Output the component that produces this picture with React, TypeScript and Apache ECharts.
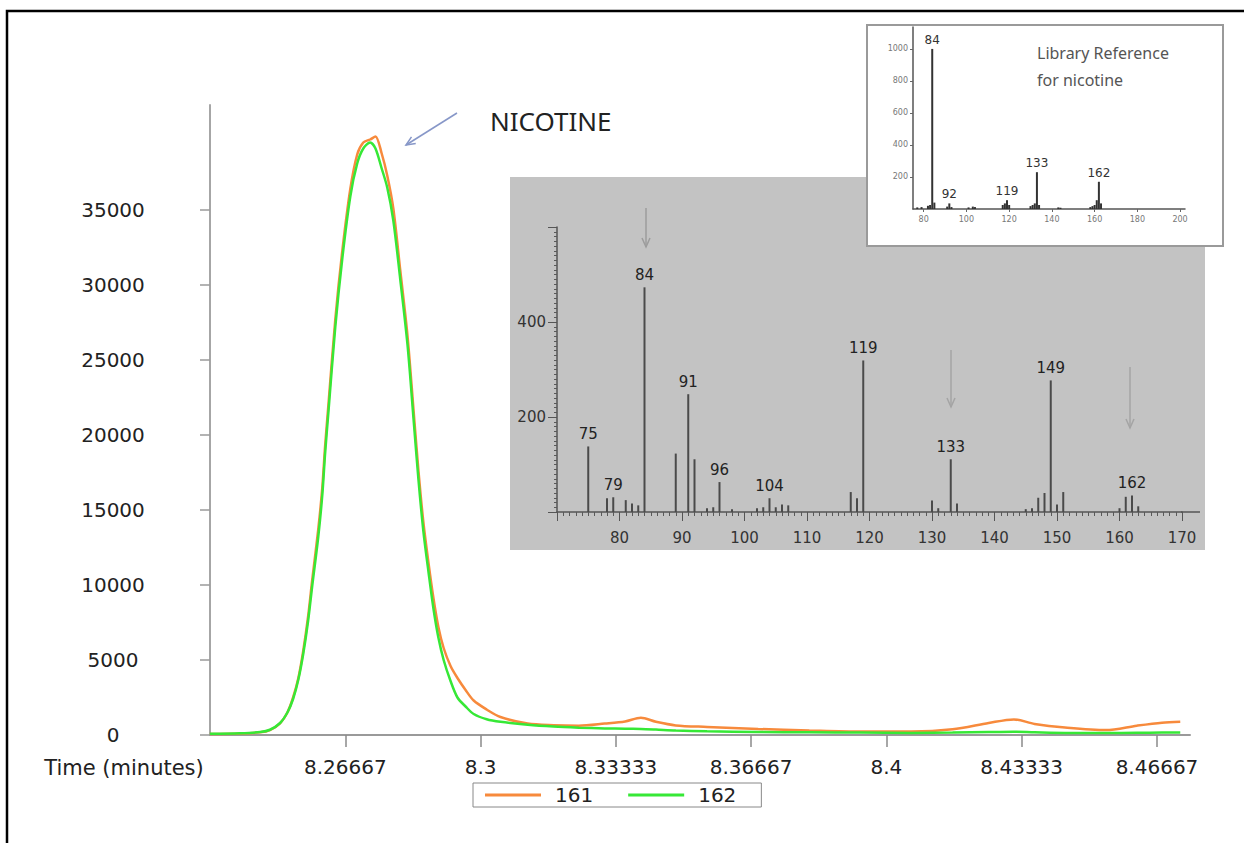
import React, { useEffect, useRef } from "react";
import * as echarts from "echarts";

// ---- Main chromatogram (extracted ion traces) ----
const timeMin = [
  8.2333, 8.2407, 8.2457, 8.2481, 8.2506, 8.2524, 8.2538, 8.2551, 8.2563, 8.2575,
  8.2585, 8.26, 8.261, 8.2617, 8.2625, 8.2642, 8.2659, 8.2679, 8.2696, 8.2711, 8.2728,
  8.2741, 8.2756, 8.277, 8.2785, 8.2802, 8.282, 8.2835, 8.2847, 8.2859, 8.2872, 8.2884,
  8.2896, 8.2909, 8.2926, 8.2943, 8.2963, 8.2983, 8.3015, 8.3049, 8.3116, 8.318,
  8.3242, 8.3306, 8.3356, 8.3395, 8.3432, 8.3481, 8.3558, 8.3684, 8.381, 8.3936,
  8.4062, 8.4163, 8.4252, 8.4314, 8.4365, 8.444, 8.4541, 8.4617, 8.4679, 8.4724,
];
const ion161 = [
  60, 100, 180, 330, 780, 1500, 2500, 3800, 5600, 7900,
  10300, 13700, 16500, 19300, 22000, 27700, 32200, 36400, 38700, 39500, 39700,
  39900, 38800, 37300, 35100, 31000, 26600, 21600, 17600, 14200, 11400, 9100,
  7200, 5800, 4600, 3800, 3000, 2300, 1700, 1200, 760, 650,
  620, 760, 900, 1150, 880, 640, 540, 400, 300, 230,
  230, 380, 800, 1040, 740, 500, 330, 620, 820, 880,
];
const ion162 = [
  80, 120, 200, 350, 800, 1500, 2400, 3700, 5400, 7600,
  9900, 13200, 16000, 18800, 21500, 27200, 31700, 35900, 38100, 39100, 39500,
  39100, 37800, 36500, 34300, 30400, 26000, 21000, 17000, 13600, 10800, 8400,
  6500, 5000, 3600, 2500, 1900, 1400, 1050, 880, 680, 560,
  490, 440, 420, 400, 360, 300, 250, 200, 180, 160,
  140, 160, 200, 220, 180, 140, 130, 150, 160, 160,
];
const mainXTicks = [8.266667, 8.3, 8.333333, 8.366667, 8.4, 8.433333, 8.466667];
const mainXTickLabels = ["8.26667", "8.3", "8.33333", "8.36667", "8.4", "8.43333", "8.46667"];
const mainYTicks = [0, 5000, 10000, 15000, 20000, 25000, 30000, 35000];
const seriesNames = ["161", "162"];

// ---- Sample mass spectrum (gray inset) ----
const mzSample = [
  75, 78, 79, 81, 82, 83, 84, 89, 91, 92, 94, 95, 96, 98, 102, 103, 104, 105, 106, 107,
  117, 118, 119, 130, 131, 133, 134, 145, 146, 147, 148, 149, 150, 151, 160, 161, 162, 163,
];
const abSample = [
  138, 29, 31, 25, 18, 14, 473, 123, 248, 111, 8, 10, 63, 6, 8, 10, 29, 10, 16, 14,
  42, 29, 319, 24, 8, 111, 18, 6, 8, 30, 40, 277, 16, 42, 8, 32, 35, 12,
];
const labeledSample = [75, 79, 84, 91, 96, 104, 119, 133, 149, 162];
const sampleYLabels = [200, 400];

// ---- Library reference spectrum (white inset) ----
const mzLibrary = [
  77, 79, 82, 83, 84, 85, 91, 92, 93, 101, 103, 104, 117, 118, 119, 120,
  130, 131, 132, 133, 134, 143, 144, 158, 159, 160, 161, 162, 163,
];
const abLibrary = [
  10, 12, 20, 25, 1000, 40, 15, 35, 12, 10, 15, 12, 25, 35, 55, 25,
  18, 25, 35, 230, 25, 10, 8, 12, 18, 25, 55, 170, 35,
];
const labeledLibrary = [84, 92, 119, 133, 162];
const libXTicks = [80, 100, 120, 140, 160, 180, 200];
const libYTicks = [200, 400, 600, 800, 1000];

const F = "DejaVu Sans";
const ORANGE = "#F78A3C";
const GREEN = "#36E836";
const plain = (v: number) => String(v);

function arrowHead(tipX: number, tipY: number, fromX: number, fromY: number, len: number, half: number) {
  const dx = tipX - fromX;
  const dy = tipY - fromY;
  const d = Math.sqrt(dx * dx + dy * dy);
  const ux = dx / d;
  const uy = dy / d;
  const bx = tipX - ux * len;
  const by = tipY - uy * len;
  return [
    [bx - uy * half, by + ux * half],
    [tipX, tipY],
    [bx + uy * half, by - ux * half],
  ];
}

function buildOption() {
  const arrows = [
    { x1: 457, y1: 113, x2: 406, y2: 145, color: "#8797C8" },
    { x1: 646, y1: 208, x2: 646, y2: 247, color: "#9C9C9C" },
    { x1: 951, y1: 350, x2: 951, y2: 407, color: "#A4A4A4" },
    { x1: 1130, y1: 367, x2: 1130, y2: 428, color: "#A4A4A4" },
  ];
  const arrowEls: any[] = [];
  arrows.forEach((a) => {
    arrowEls.push({
      type: "line",
      z: 20,
      shape: { x1: a.x1, y1: a.y1, x2: a.x2, y2: a.y2 },
      style: { stroke: a.color, lineWidth: 1.5 },
    });
    arrowEls.push({
      type: "polyline",
      z: 20,
      shape: { points: arrowHead(a.x2, a.y2, a.x1, a.y1, 9, 4) },
      style: { stroke: a.color, lineWidth: 1.5, fill: null },
    });
  });

  return {
    animation: false,
    backgroundColor: "#ffffff",
    grid: [
      { left: 210, right: 54, top: 105, bottom: 108 },
      { left: 557, right: 62, top: 227, bottom: 331 },
      { left: 913, right: 59, top: 27, bottom: 634 },
    ],
    legend: {
      data: seriesNames,
      left: 473,
      top: 783,
      icon: "rect",
      itemWidth: 56,
      itemHeight: 3,
      itemGap: 35,
      selectedMode: false,
      borderColor: "#888",
      borderWidth: 1,
      borderRadius: 0,
      padding: [2, 25, 2, 12],
      textStyle: { fontFamily: F, fontSize: 20, color: "#222", padding: [0, 0, 0, 9] },
    },
    xAxis: [
      {
        type: "value",
        gridIndex: 0,
        min: 8.23333,
        max: 8.4748,
        splitLine: { show: false },
        axisLine: { show: true, onZero: false, lineStyle: { color: "#9a9a9a", width: 2 } },
        axisTick: { show: true, customValues: mainXTicks, length: 12, lineStyle: { color: "#8a8a8a", width: 1.5 } },
        axisLabel: {
          customValues: mainXTicks,
          formatter: (v: number) => {
            const i = mainXTicks.findIndex((t) => Math.abs(t - v) < 1e-4);
            return i >= 0 ? mainXTickLabels[i] : "";
          },
          fontFamily: F,
          fontSize: 20,
          color: "#222",
          margin: 22,
        },
      },
      {
        type: "value",
        gridIndex: 1,
        min: 70,
        max: 170,
        interval: 10,
        splitLine: { show: false },
        axisLine: { show: true, onZero: false, lineStyle: { color: "#555", width: 1.5 } },
        axisTick: { show: true, length: 9, lineStyle: { color: "#555", width: 1 } },
        minorTick: { show: true, splitNumber: 10, length: 4, lineStyle: { color: "#5a5a5a", width: 1 } },
        axisLabel: { showMinLabel: false, formatter: plain, fontFamily: F, fontSize: 15, color: "#333", margin: 18 },
      },
      {
        type: "value",
        gridIndex: 2,
        min: 75,
        max: 202.3,
        splitLine: { show: false },
        axisLine: { show: true, onZero: false, lineStyle: { color: "#555", width: 1.5 } },
        axisTick: { show: true, customValues: libXTicks, length: 3, lineStyle: { color: "#666" } },
        axisLabel: { customValues: libXTicks, formatter: plain, fontFamily: F, fontSize: 8, color: "#777", margin: 6 },
      },
    ],
    yAxis: [
      {
        type: "value",
        gridIndex: 0,
        min: 0,
        max: 42000,
        splitLine: { show: false },
        axisLine: { show: true, lineStyle: { color: "#a6a6a6", width: 2 } },
        axisTick: { show: true, customValues: mainYTicks, length: 10, lineStyle: { color: "#9a9a9a", width: 1.5 } },
        axisLabel: {
          customValues: mainYTicks,
          formatter: plain,
          fontFamily: F,
          fontSize: 20,
          color: "#222",
          align: "center",
          margin: 97,
        },
      },
      {
        type: "value",
        gridIndex: 1,
        min: 0,
        max: 600,
        interval: 200,
        splitLine: { show: false },
        axisLine: { show: true, lineStyle: { color: "#555", width: 1.5 } },
        axisTick: { show: true, length: 9, lineStyle: { color: "#555" } },
        minorTick: { show: true, splitNumber: 20, length: 3, lineStyle: { color: "#5a5a5a" } },
        axisLabel: {
          formatter: (v: number) => (sampleYLabels.includes(v) ? String(v) : ""),
          fontFamily: F,
          fontSize: 15,
          color: "#333",
          margin: 11,
        },
      },
      {
        type: "value",
        gridIndex: 2,
        min: 0,
        max: 1137,
        splitLine: { show: false },
        axisLine: { show: true, lineStyle: { color: "#555", width: 1.5 } },
        axisTick: { show: true, customValues: libYTicks, length: 3, lineStyle: { color: "#666" } },
        axisLabel: { customValues: libYTicks, formatter: plain, fontFamily: F, fontSize: 8, color: "#777", margin: 5 },
      },
    ],
    series: [
      {
        name: seriesNames[0],
        type: "line",
        xAxisIndex: 0,
        yAxisIndex: 0,
        data: timeMin.map((t, i) => [t, ion161[i]]),
        showSymbol: false,
        smooth: 0.3,
        color: ORANGE,
        lineStyle: { color: ORANGE, width: 2.5 },
        z: 3,
      },
      {
        name: seriesNames[1],
        type: "line",
        xAxisIndex: 0,
        yAxisIndex: 0,
        data: timeMin.map((t, i) => [t, ion162[i]]),
        showSymbol: false,
        smooth: 0.3,
        color: GREEN,
        lineStyle: { color: GREEN, width: 2.5 },
        z: 4,
      },
      {
        name: "sample",
        type: "bar",
        xAxisIndex: 1,
        yAxisIndex: 1,
        barWidth: 2,
        itemStyle: { color: "#4a4a4a" },
        label: {
          position: "top",
          distance: 5,
          fontFamily: F,
          fontSize: 15,
          color: "#222",
          formatter: (p: any) => String(p.value[0]),
        },
        data: mzSample.map((m, i) => ({
          value: [m, abSample[i]],
          label: { show: labeledSample.includes(m) },
        })),
      },
      {
        name: "library",
        type: "bar",
        xAxisIndex: 2,
        yAxisIndex: 2,
        barWidth: 2,
        itemStyle: { color: "#333" },
        label: {
          position: "top",
          distance: 3,
          fontFamily: F,
          fontSize: 12,
          color: "#333",
          formatter: (p: any) => String(p.value[0]),
        },
        data: mzLibrary.map((m, i) => ({
          value: [m, abLibrary[i]],
          label: { show: labeledLibrary.includes(m) },
        })),
      },
    ],
    graphic: [
      {
        type: "rect",
        z: -20,
        shape: { x: 510, y: 177, width: 695, height: 373 },
        style: { fill: "#C3C3C3" },
      },
      {
        type: "rect",
        z: -10,
        shape: { x: 867, y: 25, width: 356, height: 221 },
        style: { fill: "#ffffff", stroke: "#9a9a9a", lineWidth: 2 },
      },
      {
        // short continuation of the sample spectrum's m/z axis past 170
        type: "line",
        z: 5,
        shape: { x1: 1181, y1: 512, x2: 1200, y2: 512 },
        style: { stroke: "#555", lineWidth: 1.5 },
      },
      {
        type: "polyline",
        z: 30,
        shape: { points: [[7, 843], [7, 11], [1244, 11]] },
        style: { stroke: "#000", lineWidth: 2.5, fill: null },
      },
      {
        type: "text",
        z: 30,
        x: 1037,
        y: 39,
        style: {
          text: "Library Reference\nfor nicotine",
          fontFamily: "Noto Sans",
          fontSize: 16,
          lineHeight: 27,
          fill: "#555",
        },
      },
      {
        type: "text",
        z: 30,
        x: 490,
        y: 121,
        style: {
          text: "NICOTINE",
          fontFamily: "Noto Sans",
          fontSize: 26,
          fill: "#222",
          textVerticalAlign: "middle",
          verticalAlign: "middle",
        },
      },
      {
        type: "text",
        z: 30,
        x: 124,
        y: 768,
        style: {
          text: "Time (minutes)",
          fontFamily: F,
          fontSize: 21,
          fill: "#222",
          align: "center",
          verticalAlign: "middle",
          textAlign: "center",
          textVerticalAlign: "middle",
        },
      },
      ...arrowEls,
    ],
  };
}

export default function App() {
  const ref = useRef<HTMLDivElement>(null);
  useEffect(() => {
    if (!ref.current) return;
    const chart = echarts.init(ref.current, null, { renderer: "svg" });
    chart.setOption(buildOption() as any);
    return () => chart.dispose();
  }, []);
  return (
    <div
      ref={ref}
      style={{ position: "absolute", left: 0, top: 0, width: 1244, height: 843, background: "#fff" }}
    />
  );
}
